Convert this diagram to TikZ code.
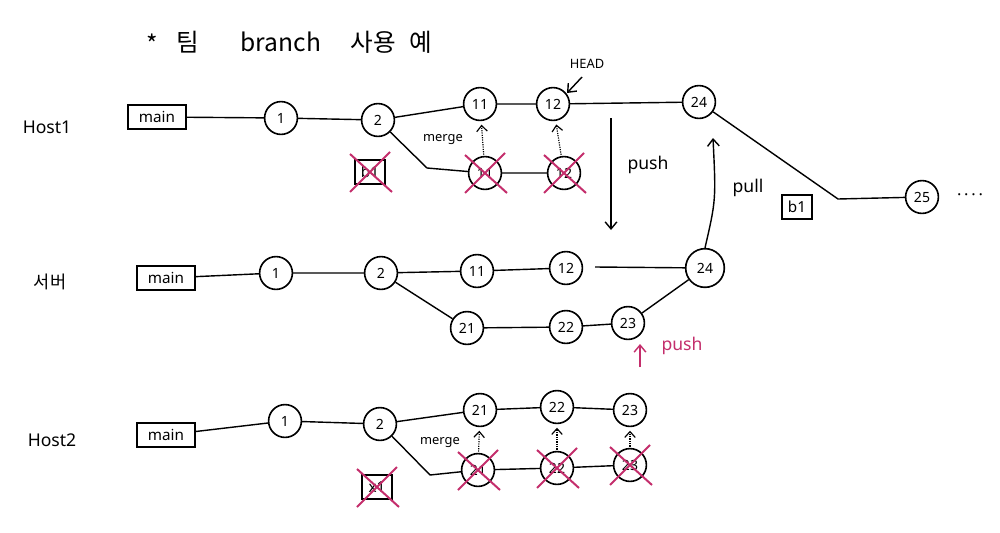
\documentclass[tikz,border=0pt]{standalone}
\usepackage{fontspec}
\setmainfont{Noto Sans}
\newfontfamily\kr{Noto Sans CJK KR}
\usetikzlibrary{arrows.meta}
\definecolor{pinkx}{HTML}{C42E6C}
\begin{document}
\begin{tikzpicture}[x=0.03cm,y=-0.03cm,
  commit/.style={circle,draw,line width=1.4pt,minimum size=28pt,inner sep=0pt,font=\fontsize{12}{12}\selectfont},
  bigcommit/.style={commit,minimum size=33pt},
  brbox/.style={draw,line width=1.4pt,minimum width=50pt,minimum height=21pt,inner sep=2pt,font=\fontsize{13}{13}\selectfont},
  smallbox/.style={brbox,minimum width=26pt,minimum height=20pt},
  edge/.style={line width=1.2pt},
  arr/.style={line width=1.2pt,-{Straight Barb[length=6pt,width=10pt]}},
  dotarr/.style={line width=1pt,densely dotted,-{Straight Barb[length=5pt,width=9pt]},shorten >=3pt,shorten <=1pt},
  lbl/.style={font=\fontsize{15}{15}\selectfont},
  small/.style={font=\fontsize{11}{11}\selectfont},
  ttl/.style={font=\kr\fontsize{21}{21}\selectfont},
  crossx/.style={pinkx,line width=1.7pt}
]
\useasboundingbox (0,0) rectangle (1000,533);
\fill[white] (0,0) rectangle (1000,533);

% title
\node[ttl] (t1) at (152,44) {*};
\node[ttl] (t2) at (188,42) {팀};
\node[ttl] (t3) at (281,42) {branch};
\node[ttl] (t4) at (373,42) {사용};
\node[ttl] (t5) at (421,42) {예};

% row labels
\node[lbl] (lh1) at (47,127) {Host1};
\node[lbl,font=\kr\fontsize{15}{15}\selectfont] (lsv) at (50,282) {서버};
\node[lbl] (lh2) at (52,440) {Host2};

% ---------- Host1 ----------
\node[brbox] (h1main) at (157,117) {main};
\node[commit] (h1c1) at (281,118) {1};
\node[commit] (h1c2) at (378,120) {2};
\node[commit] (h1c11) at (480,104) {11};
\node[commit] (h1c12) at (553,104) {12};
\node[commit] (h1c24) at (699,102) {24};
\coordinate (h1k) at (838,199);
\node[commit] (h1c25) at (922,197) {25};
\node[font=\fontsize{14}{14}\selectfont] (h1dots) at (970,197) {·\,·\,·\,·};
\node[smallbox] (h1b1r) at (797,207) {b1};

\coordinate (h1b) at (427,168);
\node[commit] (h1d11) at (485,173) {11};
\node[commit] (h1d12) at (564,173) {12};
\node[smallbox] (h1b1) at (370,172) {b1};
\node[small] (h1merge) at (443,140) {merge};
\node[small] (head) at (587,64) {HEAD};
\coordinate (headst) at (582,77);
\coordinate (headtip) at (567,93);

\draw[edge] (h1main) -- (h1c1) -- (h1c2) -- (h1c11) -- (h1c12) -- (h1c24) -- (h1k) -- (h1c25);
\draw[edge] (h1c2) -- (h1b) -- (h1d11) -- (h1d12);
\draw[dotarr] (h1d11) -- (h1c11);
\draw[dotarr] (h1d12) -- (h1c12);
\draw[arr] (headst) -- (headtip);

\foreach \n in {h1d11,h1d12,h1b1}{
  \draw[crossx] (\n) ++(-20,-18) -- ++(42,38);
  \draw[crossx] (\n) ++(20,-20) -- ++(-40,40);
}

% push / pull between Host1 and server
\coordinate (p1s) at (611,118);
\coordinate (p1e) at (611,230);
\draw[arr] (p1s) -- (p1e);
\node[lbl] (push1) at (648,165) {push};

% ---------- Server ----------
\node[brbox] (svmain) at (166,278) {main};
\node[commit] (s1) at (276,273) {1};
\node[commit] (s2) at (381,273) {2};
\node[commit] (s11) at (477,271) {11};
\node[commit] (s12) at (566,268) {12};
\node[bigcommit] (s24) at (705,268) {24};
\coordinate (sgap) at (595,267);
\node[commit] (s21) at (467,328) {21};
\node[commit] (s22) at (566,327) {22};
\node[commit] (s23) at (628,323) {23};

\draw[edge] (svmain) -- (s1) -- (s2) -- (s11) -- (s12);
\draw[edge] (sgap) -- (s24);
\draw[edge] (s2) -- (s21) -- (s22) -- (s23) -- (s24);

\coordinate (pullend) at (713,138);
\draw[arr] (s24.north) .. controls (716,200) .. (pullend);
\node[lbl] (pull) at (748,188) {pull};

% pink push
\coordinate (p2s) at (640,367);
\coordinate (p2e) at (640,344);
\draw[arr,pinkx] (p2s) -- (p2e);
\node[lbl,pinkx] (push2) at (682,346) {push};

% ---------- Host2 ----------
\node[brbox] (h2main) at (166,435) {main};
\node[commit] (h2c1) at (285,421) {1};
\node[commit] (h2c2) at (380,424) {2};
\node[commit] (h2c21) at (480,410) {21};
\node[commit] (h2c22) at (557,407) {22};
\node[commit] (h2c23) at (630,410) {23};
\coordinate (h2b) at (430,475);
\node[commit] (h2d21) at (478,470) {21};
\node[commit] (h2d22) at (557,468) {22};
\node[commit] (h2d23) at (630,465) {23};
\node[smallbox] (h2x1) at (377,487) {x1};
\node[small] (h2merge) at (440,443) {merge};

\draw[edge] (h2main) -- (h2c1) -- (h2c2) -- (h2c21) -- (h2c22) -- (h2c23);
\draw[edge] (h2c2) -- (h2b) -- (h2d21) -- (h2d22) -- (h2d23);
\draw[dotarr] (h2d21) -- (h2c21);
\draw[dotarr] (h2d22) -- (h2c22);
\draw[dotarr] (h2d23) -- (h2c23);

\foreach \n in {h2d21,h2d22,h2d23,h2x1}{
  \draw[crossx] (\n) ++(-20,-18) -- ++(42,38);
  \draw[crossx] (\n) ++(20,-20) -- ++(-40,40);
}
\end{tikzpicture}
\end{document}
